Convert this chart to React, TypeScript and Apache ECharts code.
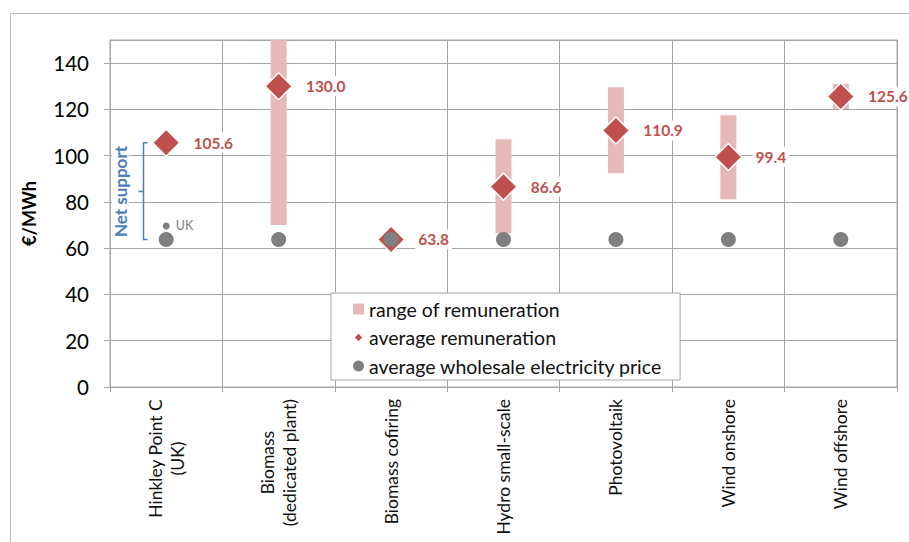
import React, { useEffect, useRef } from "react";
import * as echarts from "echarts";

const categories = [
  "Hinkley Point C\n(UK)",
  "Biomass\n(dedicated plant)",
  "Biomass cofiring",
  "Hydro small-scale",
  "Photovoltaik",
  "Wind onshore",
  "Wind offshore",
];
const rangeMin: (number | null)[] = [null, 70.0, null, 66.5, 92.4, 81.2, 120.2];
const rangeMax: (number | null)[] = [null, 165.0, null, 107.1, 129.6, 117.5, 131.0];
const avgRemuneration = [105.6, 130.0, 63.8, 86.6, 110.9, 99.4, 125.6];
const wholesalePrice = [63.8, 63.8, 63.8, 63.8, 63.8, 63.8, 63.8];
const ukWholesale: (number | null)[] = [69.6, null, null, null, null, null, null];
const netSupport = [[0, 105.6, 63.8]];
const yMin = 0;
const yMax = 150;
const yInterval = 20;

const FONT = "Lato, 'Open Sans', sans-serif";
const RED = "#C0504D";
const PINK = "#E6B9B8";
const GREY = "#7F7F7F";
const BLUE = "#4A7EBB";
const GRID = "#A6A6A6";

export default function App() {
  const ref = useRef<HTMLDivElement>(null);
  useEffect(() => {
    if (!ref.current) return;
    const chart = echarts.init(ref.current, undefined, { renderer: "svg" });
    const rangeSpan = rangeMin.map((m, i) =>
      m == null || rangeMax[i] == null ? null : +((rangeMax[i] as number) - m).toFixed(2)
    );
    chart.setOption({
      animation: false,
      backgroundColor: "#fff",
      textStyle: { fontFamily: FONT },
      graphic: [
        {
          type: "rect",
          shape: { x: 10.5, y: 13.5, width: 1000, height: 1000 },
          style: { fill: "none", stroke: "#BFBFBF", lineWidth: 1 },
          silent: true,
          z: -10,
        },
      ],
      grid: {
        left: 110,
        right: 12,
        top: 40,
        bottom: 155,
        show: true,
        borderColor: GRID,
        borderWidth: 1,
        backgroundColor: "transparent",
      },
      legend: {
        orient: "vertical",
        left: 331,
        top: 293,
        padding: [6, 18, 4, 22],
        itemGap: 8.5,
        itemWidth: 11,
        itemHeight: 11,
        backgroundColor: "#fff",
        borderColor: GRID,
        borderWidth: 1,
        textStyle: { fontSize: 19.5, fontFamily: FONT, color: "#111" },
        data: [
          { name: "range of remuneration", icon: "rect", itemStyle: { color: PINK, borderWidth: 0 } },
          {
            name: "average remuneration",
            icon: "path://M0,0M12,12M6,2L10,6L6,10L2,6Z",
            itemStyle: { color: RED, borderWidth: 0 },
          },
          { name: "average wholesale electricity price", icon: "circle", itemStyle: { color: GREY, borderWidth: 0 } },
        ],
      },
      xAxis: {
        type: "category",
        data: categories,
        boundaryGap: true,
        axisLine: { show: true, lineStyle: { color: GRID } },
        axisTick: { show: true, length: 5, interval: 0, lineStyle: { color: GRID } },
        splitLine: { show: true, interval: 0, lineStyle: { color: GRID, width: 1 } },
        axisLabel: {
          interval: 0,
          rotate: 90,
          margin: 12,
          color: "#111",
          fontSize: 17.5,
          fontFamily: FONT,
          lineHeight: 22,
          formatter: (v: string) =>
            v
              .split("\n")
              .map((l) => `{c|${l}}`)
              .join("\n"),
          rich: { c: { align: "center", fontSize: 17.5, fontFamily: FONT, color: "#111", lineHeight: 22 } },
        },
      },
      yAxis: {
        type: "value",
        min: yMin,
        max: yMax,
        interval: yInterval,
        name: "€/MWh",
        nameLocation: "middle",
        nameRotate: 90,
        nameGap: 72,
        nameTextStyle: { fontSize: 18, fontWeight: "bold", color: "#000", fontFamily: FONT },
        axisLine: { show: true, lineStyle: { color: GRID } },
        axisTick: { show: true, length: 6, lineStyle: { color: GRID } },
        splitLine: { show: true, lineStyle: { color: GRID, width: 1 } },
        axisLabel: {
          showMaxLabel: false,
          margin: 21,
          fontSize: 20.5,
          color: "#000",
          fontFamily: FONT,
        },
      },
      series: [
        {
          name: "rangeBase",
          type: "bar",
          stack: "range",
          barWidth: 16,
          data: rangeMin,
          itemStyle: { color: "transparent" },
          silent: true,
          z: 2,
        },
        {
          name: "range of remuneration",
          type: "bar",
          stack: "range",
          barWidth: 16,
          data: rangeSpan,
          itemStyle: { color: PINK },
          z: 2,
        },
        {
          name: "average remuneration",
          type: "scatter",
          symbol: "diamond",
          symbolSize: 27,
          data: avgRemuneration,
          itemStyle: { color: RED, borderColor: "#fff", borderWidth: 1.5, opacity: 1 },
          label: {
            show: true,
            position: "right",
            distance: 10,
            formatter: (p: any) => Number(p.value).toFixed(1),
            color: RED,
            fontWeight: "bold",
            fontSize: 15.5,
            fontFamily: FONT,
            backgroundColor: "#fff",
            padding: [2, 3],
          },
          z: 3,
        },
        {
          name: "average wholesale electricity price",
          type: "scatter",
          symbol: "circle",
          symbolSize: 15,
          data: wholesalePrice,
          itemStyle: { color: GREY, opacity: 1 },
          z: 4,
        },
        {
          name: "UK wholesale",
          type: "scatter",
          symbol: "circle",
          symbolSize: 7,
          data: ukWholesale,
          itemStyle: { color: GREY, opacity: 1 },
          label: {
            show: true,
            position: "right",
            distance: 6,
            formatter: "UK",
            color: GREY,
            fontSize: 12.5,
            fontFamily: FONT,
          },
          z: 4,
        },
        {
          name: "Net support",
          type: "custom",
          data: netSupport,
          encode: { x: 0, y: [1, 2] },
          z: 5,
          renderItem: (params: any, api: any) => {
            const top = api.coord([api.value(0), api.value(1)]);
            const bot = api.coord([api.value(0), api.value(2)]);
            const x = Math.round(top[0] - 23) + 0.5;
            const mid = Math.round((top[1] + bot[1]) / 2) + 0.5;
            return {
              type: "group",
              children: [
                {
                  type: "polyline",
                  shape: {
                    points: [
                      [x + 4, top[1]],
                      [x, top[1]],
                      [x, bot[1]],
                      [x + 4, bot[1]],
                    ],
                  },
                  style: { stroke: BLUE, lineWidth: 1.5, fill: null },
                },
                {
                  type: "line",
                  shape: { x1: x, y1: mid, x2: x - 5, y2: mid },
                  style: { stroke: BLUE, lineWidth: 1.5 },
                },
                {
                  type: "text",
                  x: x - 23,
                  y: mid,
                  rotation: Math.PI / 2,
                  style: {
                    text: "Net support",
                    fill: BLUE,
                    fontSize: 17,
                    fontWeight: "bold",
                    fontFamily: FONT,
                    align: "center",
                    verticalAlign: "middle",
                    backgroundColor: "#fff",
                    padding: [0, 2],
                  },
                },
              ],
            };
          },
        },
      ],
    });
    return () => chart.dispose();
  }, []);
  return (
    <div
      ref={ref}
      style={{ position: "fixed", left: 0, top: 0, width: 909, height: 542, background: "#fff" }}
    />
  );
}
